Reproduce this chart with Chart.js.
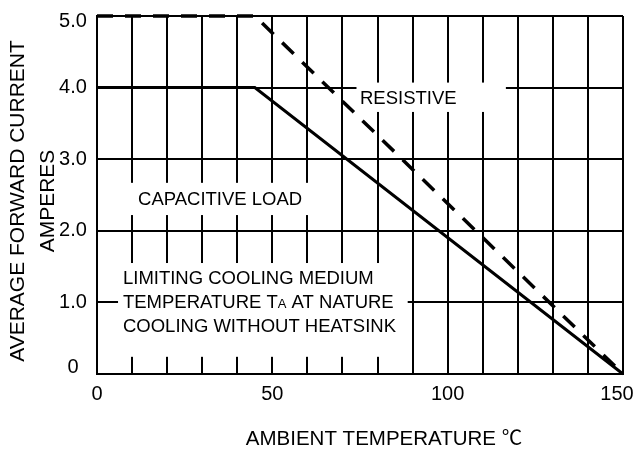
<!DOCTYPE html>
<html>
<head>
<meta charset="utf-8">
<script src="https://cdn.jsdelivr.net/npm/chart.js@4"></script>
<style>
  body { margin: 0; background: #fff; }
  canvas { display: block; }
</style>
</head>
<body>
<canvas id="myChart" width="636" height="449"></canvas>
<script>
// derating curves (temperature in C, current in A)
const capacitiveTemp = [0, 45, 150]
const capacitiveAmps = [4.0, 4.0, 0]
const resistiveTemp = [0, 45, 150]
const resistiveAmps = [5.0, 5.0, 0]

const xTickValues = [0, 50, 100, 150]
const xTickLabels = ['0', '50', '100', '150']
const yTickValues = [0, 1, 2, 3, 4, 5]
const yTickLabels = ['0', '1.0', '2.0', '3.0', '4.0', '5.0']

const xTitle = 'AMBIENT TEMPERATURE \u2103'
const yTitle = ['AVERAGE FORWARD CURRENT', 'AMPERES']

const FONT = '"Liberation Sans", Arial, "Noto Sans CJK SC", sans-serif'

// text boxes, placed in data units
const notes = [
  { box: [8, 63, 2.67, 2.22], x: 11.7, lines: [{ y: 2.46, parts: [['CAPACITIVE LOAD', 18.5]] }] },
  { box: [74, 116.6, 4.07, 3.66], x: 75, lines: [{ y: 3.87, parts: [['RESISTIVE', 18.5]] }] },
  { box: [6, 88.6, 1.55, 0.24], x: 7.4, lines: [
      { y: 1.355, parts: [['LIMITING COOLING MEDIUM', 18.5]] },
      { y: 1.01, parts: [['TEMPERATURE T', 18.5], ['A', 13], [' AT NATURE', 18.5]] },
      { y: 0.685, parts: [['COOLING WITHOUT HEATSINK', 18.5]] }
  ] }
]

const toPoints = (xs, ys) => xs.map((x, i) => ({ x: x, y: ys[i] }))

const overlay = {
  id: 'overlay',
  beforeDatasetsDraw(chart) {
    const ctx = chart.ctx
    const sx = chart.scales.x, sy = chart.scales.y
    ctx.save()
    notes.forEach(n => {
      const x0 = sx.getPixelForValue(n.box[0]), x1 = sx.getPixelForValue(n.box[1])
      const y0 = sy.getPixelForValue(n.box[2]), y1 = sy.getPixelForValue(n.box[3])
      ctx.fillStyle = '#fff'
      ctx.fillRect(x0, y0, x1 - x0, y1 - y0)
      ctx.fillStyle = '#000'
      ctx.textBaseline = 'alphabetic'
      ctx.textAlign = 'left'
      n.lines.forEach(l => {
        let cx = sx.getPixelForValue(n.x)
        const base = sy.getPixelForValue(l.y) + 18.5 * 0.36
        l.parts.forEach(p => {
          ctx.font = p[1] + 'px ' + FONT
          ctx.fillText(p[0], cx, base)
          cx += ctx.measureText(p[0]).width
        })
      })
    })
    ctx.restore()
  },
  afterDraw(chart) {
    const ctx = chart.ctx
    const sx = chart.scales.x, sy = chart.scales.y
    const area = chart.chartArea
    ctx.save()
    ctx.fillStyle = '#000'
    ctx.textAlign = 'center'
    ctx.textBaseline = 'middle'
    ctx.font = '20px ' + FONT
    yTickValues.forEach((v, i) => {
      let y = sy.getPixelForValue(v)
      y = Math.max(area.top + 5, Math.min(area.bottom - 7, y))
      ctx.fillText(yTickLabels[i], 73, y)
    })
    xTickValues.forEach((v, i) => {
      let x = sx.getPixelForValue(v)
      x = Math.min(area.right - 6, x)
      ctx.fillText(xTickLabels[i], x, area.bottom + 20)
    })
    ctx.font = '20.5px ' + FONT
    ctx.fillText(xTitle, 384, 439)
    ctx.font = '21px ' + FONT
    ctx.translate(0, 201)
    ctx.rotate(-Math.PI / 2)
    ctx.fillText(yTitle[0], 0, 18)
    ctx.fillText(yTitle[1], 0, 48)
    ctx.restore()
  }
}

new Chart(document.getElementById('myChart').getContext('2d'), {
  type: 'line',
  data: {
    datasets: [
      {
        label: 'Capacitive',
        data: toPoints(capacitiveTemp, capacitiveAmps),
        borderColor: '#000',
        borderWidth: 3,
        pointRadius: 0,
        fill: false,
        tension: 0,
        clip: 4
      },
      {
        label: 'Resistive',
        data: toPoints(resistiveTemp, resistiveAmps),
        borderColor: '#000',
        borderWidth: 3.5,
        borderDash: [16, 12],
        pointRadius: 0,
        fill: false,
        tension: 0,
        clip: 4
      }
    ]
  },
  options: {
    responsive: false,
    animation: false,
    layout: { padding: { left: 97, right: 13, top: 16, bottom: 75 } },
    plugins: { legend: { display: false }, tooltip: { enabled: false } },
    scales: {
      x: {
        type: 'linear', min: 0, max: 150,
        ticks: { stepSize: 10, display: false },
        grid: { color: '#000', lineWidth: 2, drawTicks: false },
        border: { color: '#000', width: 2 }
      },
      y: {
        type: 'linear', min: 0, max: 5,
        ticks: { stepSize: 1, display: false },
        grid: { color: '#000', lineWidth: 2, drawTicks: false },
        border: { color: '#000', width: 2 }
      }
    }
  },
  plugins: [overlay]
})
</script>
</body>
</html>
